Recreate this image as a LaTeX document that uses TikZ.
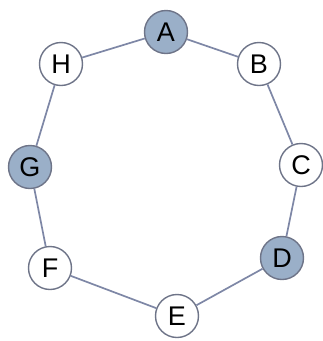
\documentclass[tikz,border=0pt]{standalone}
\usepackage{fontspec}
\setmainfont{Liberation Sans}
\definecolor{hl}{HTML}{9AAFC8}
\definecolor{ring}{HTML}{6E7488}
\definecolor{edge}{HTML}{7E87A6}
\begin{document}
\begin{tikzpicture}[x=1pt,y=-1pt,
  vtx/.style={circle,draw=ring,line width=1.4pt,fill=white,minimum size=43pt,inner sep=0pt,font=\fontsize{27}{27}\selectfont},
  mark vtx/.style={vtx,fill=hl},
  link/.style={draw=edge,line width=1.7pt}]
\useasboundingbox (0,0) rectangle (323,341);
\node[mark vtx] (A) at (166,32) {A};
\node[vtx] (B) at (259,64) {B};
\node[vtx] (C) at (301,165) {C};
\node[mark vtx] (D) at (282,258) {D};
\node[vtx] (E) at (177,316) {E};
\node[vtx] (F) at (50,268) {F};
\node[mark vtx] (G) at (30,167) {G};
\node[vtx] (H) at (61,64) {H};
\draw[link] (A) -- (B);
\draw[link] (B) -- (C);
\draw[link] (C) -- (D);
\draw[link] (D) -- (E);
\draw[link] (E) -- (F);
\draw[link] (F) -- (G);
\draw[link] (G) -- (H);
\draw[link] (H) -- (A);
\end{tikzpicture}
\end{document}
